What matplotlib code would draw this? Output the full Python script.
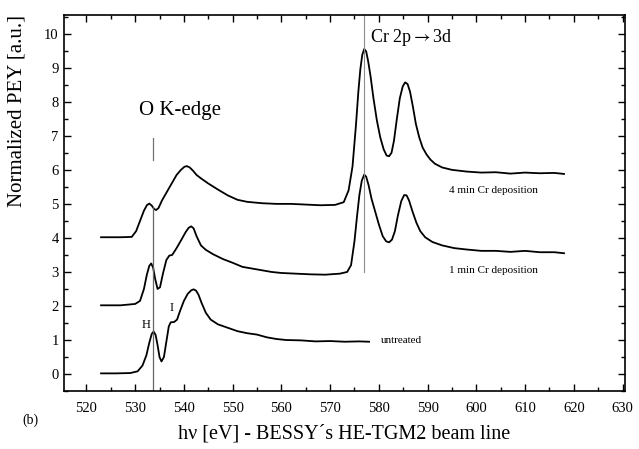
import matplotlib
matplotlib.use("Agg")
import matplotlib.pyplot as plt
from matplotlib.ticker import MultipleLocator

plt.rcParams['font.family'] = ['Liberation Serif', 'DejaVu Serif']
plt.rcParams['mathtext.fontset'] = 'stix'

# untreated sample
untreated_x = [523.0, 526, 529, 530.5, 531.5, 532.3, 532.9, 533.4, 533.8, 534.2, 534.6, 535.0,
               535.4, 535.9, 536.4, 536.9, 537.3, 538.0, 538.6, 539.2, 540.0, 540.8, 541.5,
               542.0, 542.5, 543.0, 543.6, 544.5, 545.5, 547, 549, 551, 553, 555, 557, 559,
               561, 564, 567, 570, 573, 576, 578]
untreated_y = [0.02, 0.02, 0.03, 0.08, 0.25, 0.55, 0.92, 1.18, 1.25, 1.15, 0.85, 0.5,
               0.37, 0.5, 0.95, 1.4, 1.52, 1.53, 1.6, 1.85, 2.15, 2.36, 2.46,
               2.49, 2.45, 2.33, 2.1, 1.8, 1.6, 1.46, 1.36, 1.26, 1.2, 1.16, 1.08, 1.03,
               1.0, 0.99, 0.96, 0.97, 0.95, 0.96, 0.95]

# 1 min Cr deposition
min1_x = [523, 527, 530, 531, 531.8, 532.4, 532.9, 533.3, 533.7, 534.1, 534.6, 535.1, 535.7,
          536.4, 537.0, 537.6, 538.5, 539.5, 540.4, 541.0, 541.5, 542.0, 542.6, 543.5, 544.5,
          546, 548, 550, 552, 554, 556, 558, 560, 563, 566, 569, 572, 573.5, 574.3, 575.0,
          575.5, 576.0, 576.5, 577.0, 577.4, 577.9, 578.5, 579.2, 580.0, 580.8, 581.5, 582.1,
          582.7, 583.3, 583.9, 584.6, 585.2, 585.7, 586.2, 586.9, 587.7, 588.5, 589.5, 591,
          593, 595.5, 598, 601, 604, 607, 610, 613, 616, 618]
min1_y = [2.02, 2.02, 2.06, 2.15, 2.5, 2.92, 3.18, 3.25, 3.12, 2.8, 2.5, 2.55, 2.95,
          3.35, 3.48, 3.5, 3.7, 3.95, 4.18, 4.3, 4.34, 4.28, 4.05, 3.78, 3.65,
          3.52, 3.38, 3.27, 3.15, 3.1, 3.05, 3.0, 2.97, 2.95, 2.93, 2.92, 2.95, 3.0, 3.2, 3.9,
          4.6, 5.25, 5.68, 5.86, 5.8, 5.55, 5.15, 4.8, 4.4, 4.05, 3.9, 3.87,
          3.95, 4.2, 4.65, 5.08, 5.26, 5.25, 5.1, 4.78, 4.45, 4.2, 4.02, 3.88,
          3.78, 3.7, 3.66, 3.62, 3.62, 3.59, 3.62, 3.58, 3.58, 3.55]

# 4 min Cr deposition
min4_x = [523, 527, 529.3, 530.2, 531.0, 531.8, 532.4, 532.9, 533.4, 533.9, 534.3, 534.8,
          535.5, 536.5, 537.5, 538.5, 539.4, 540.1, 540.6, 541.2, 541.9, 542.6, 543.5, 545,
          547, 549, 551, 553, 556, 559, 562, 565, 568, 571, 572.8, 573.8, 574.6, 575.3,
          575.8, 576.2, 576.6, 577.0, 577.4, 577.8, 578.3, 578.9, 579.6, 580.3, 581.0, 581.6,
          582.1, 582.6, 583.1, 583.7, 584.3, 584.9, 585.4, 585.9, 586.4, 587.0, 587.6, 588.3,
          589.0, 589.8, 590.6, 591.5, 593, 595, 598, 601, 604, 607, 610, 613, 616, 618]
min4_y = [4.02, 4.02, 4.03, 4.2, 4.5, 4.8, 4.96, 5.01, 4.95, 4.85, 4.82, 4.88,
          5.1, 5.35, 5.6, 5.85, 6.0, 6.09, 6.11, 6.07, 5.97, 5.85, 5.75, 5.6,
          5.42, 5.25, 5.12, 5.06, 5.02, 5.0, 5.0, 4.98, 4.96, 4.97, 5.05, 5.4, 6.1, 7.3,
          8.3, 8.95, 9.38, 9.55, 9.48, 9.2, 8.75, 8.1, 7.45, 6.95, 6.6, 6.42,
          6.4, 6.5, 6.85, 7.5, 8.1, 8.45, 8.57, 8.52, 8.3, 7.85, 7.35, 6.95,
          6.65, 6.45, 6.3, 6.18, 6.07, 6.0, 5.95, 5.92, 5.93, 5.89, 5.92, 5.9, 5.91, 5.88]

o_edge = 533.7
cr_edge = 577.0

fig = plt.figure(figsize=(6.39, 4.49), dpi=100)
ax = fig.add_axes([0.0994, 0.129, 0.8786, 0.8376])

ax.plot(untreated_x, untreated_y, color="black", lw=1.3)
ax.plot(min1_x, min1_y, color="black", lw=1.3)
ax.plot(min4_x, min4_y, color="black", lw=1.3)

# reference lines
ax.plot([o_edge, o_edge], [-0.5, 4.9], color="0.4", lw=0.9)
ax.plot([o_edge, o_edge], [6.28, 6.95], color="0.45", lw=0.9)
ax.plot([cr_edge, cr_edge], [3.0, 10.6], color="0.55", lw=0.8)

ax.text(530.8, 7.74, "O K-edge", fontsize=15, va="center", ha="left")
ax.text(578.2, 9.9, r"Cr 2p$\rightarrow$3d", fontsize=13, va="center", ha="left")
ax.text(594.5, 5.4, "4 min Cr deposition", fontsize=8, va="center")
ax.text(594.4, 3.05, "1 min Cr deposition", fontsize=8, va="center")
ax.text(580.4, 1.0, "untreated", fontsize=8, va="center")
ax.text(532.2, 1.44, "H", fontsize=9, ha="center", va="center")
ax.text(537.5, 1.94, "I", fontsize=9, ha="center", va="center")

ax.set_xlim(515.3, 630.5)
ax.set_ylim(-0.5, 10.55)
ax.xaxis.set_major_locator(MultipleLocator(10))
ax.xaxis.set_minor_locator(MultipleLocator(5))
ax.yaxis.set_major_locator(MultipleLocator(1))
ax.yaxis.set_minor_locator(MultipleLocator(0.5))
ax.tick_params(which="both", direction="in", top=True, right=True, labelsize=10.5, width=1.0)
ax.tick_params(which="major", length=5)
ax.tick_params(which="minor", length=3)
ax.tick_params(axis="x", which="major", pad=8)
for s in ax.spines.values():
    s.set_linewidth(1.2)

ax.set_xlabel("h\u03bd [eV] - BESSY\u00b4s HE-TGM2 beam line", fontsize=14.5)
ax.set_ylabel("Normalized PEY [a.u.]", fontsize=15)
ax.xaxis.set_label_coords(0.50, -0.09)
ax.yaxis.set_label_coords(-0.066, 0.745)
fig.text(0.035, 0.055, "(b)", fontsize=10)

fig.savefig("out.png", dpi=100)
